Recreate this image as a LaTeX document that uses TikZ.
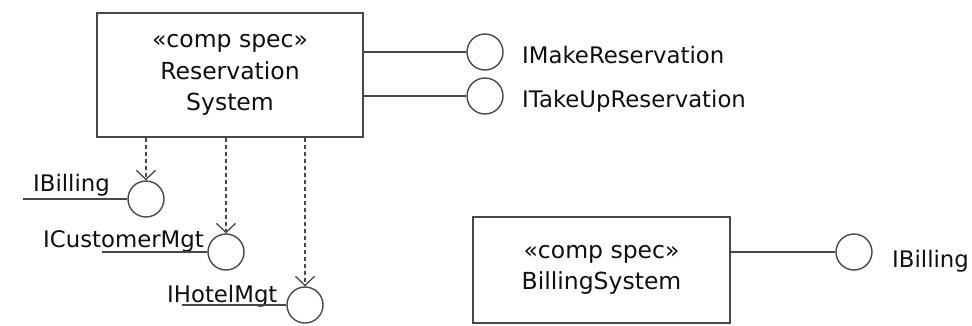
\documentclass[tikz,border=0pt]{standalone}
\usepackage{fontspec}
\setmainfont{DejaVu Sans}
\usetikzlibrary{arrows.meta}
\definecolor{ln}{RGB}{72,72,72}
\definecolor{tx}{RGB}{15,15,15}
\begin{document}
\begin{tikzpicture}[x=1pt,y=-1pt,
  comp/.style={draw=ln, line width=1.4pt, align=center, text=tx, inner sep=0pt,
    font=\fontsize{23.5}{31.5}\selectfont},
  iface/.style={circle, draw=ln, line width=1.4pt, minimum size=36pt, inner sep=0pt},
  lbl/.style={font=\fontsize{22.8}{26}\selectfont, text=tx, inner sep=0pt, anchor=base west},
  conn/.style={draw=ln, line width=1.4pt},
  dep/.style={conn, line width=1.2pt, dash pattern=on 4pt off 3pt,
    -{Straight Barb[length=9pt,width=19pt,line width=1.3pt]}}]
\useasboundingbox (0,0) rectangle (972,325);
% components
\node[comp, minimum width=266pt, minimum height=124pt] (rs) at (230,75) {«comp spec»\\Reservation\\System};
\node[comp, minimum width=257pt, minimum height=106pt] (bs) at (601.5,270) {«comp spec»\\BillingSystem};
% interfaces
\node[iface] (mk) at (485,52) {};
\node[iface] (tk) at (485,96) {};
\node[iface] (ib) at (146,199) {};
\node[iface] (cm) at (226,252) {};
\node[iface] (hm) at (305,305) {};
\node[iface] (bb) at (854,252) {};
% labels
\node[lbl] (mkl) at (522,63) {IMakeReservation};
\node[lbl] (tkl) at (522,107) {ITakeUpReservation};
\node[lbl] (ibl) at (33,191) {IBilling};
\node[lbl] (cml) at (43,247) {ICustomerMgt};
\node[lbl] (hml) at (167,302) {IHotelMgt};
\node[lbl] (bbl) at (892,267) {IBilling};
% stub ends
\coordinate (ibL) at (23,199);
\coordinate (cmL) at (102,252);
\coordinate (hmL) at (182,305);
% connectors
\draw[conn] (rs.east |- mk) -- (mk.west);
\draw[conn] (rs.east |- tk) -- (tk.west);
\draw[conn] (bs.east |- bb) -- (bb.west);
\draw[conn] (ibL) -- (ib.west);
\draw[conn] (cmL) -- (cm.west);
\draw[conn] (hmL) -- (hm.west);
\draw[dep] (rs.south -| ib) -- (ib.north);
\draw[dep] (rs.south -| cm) -- (cm.north);
\draw[dep] (rs.south -| hm) -- (hm.north);
\end{tikzpicture}
\end{document}
